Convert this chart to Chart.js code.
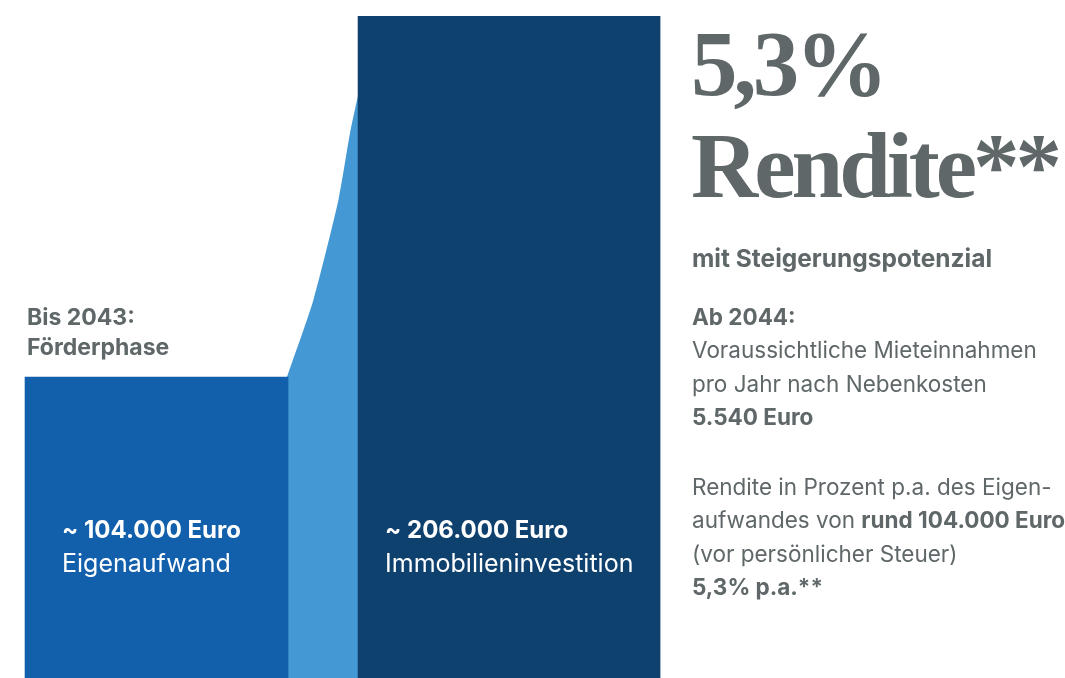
<!DOCTYPE html>
<html lang="de">
<head>
<meta charset="utf-8">
<script src="https://cdn.jsdelivr.net/npm/chart.js@4.4.1/dist/chart.umd.min.js"></script>
<style>
  html, body { margin: 0; padding: 0; background: #fff; }
  body { width: 1065px; height: 678px; position: relative; overflow: hidden; font-family: Inter, "Noto Sans", sans-serif; color: #5f6769; }
  #wrap { position: absolute; left: 0; top: 0; width: 1065px; height: 678px; }
  .big { position: absolute; left: 691px; top: 13px; font-family: "Liberation Serif", serif; font-weight: bold; font-size: 93px; line-height: 102px; letter-spacing: -4px; color: #5f6769; white-space: nowrap; }
  .side { position: absolute; left: 692px; font-size: 22.5px; line-height: 33.3px; white-space: nowrap; }
  .side b { font-weight: 700; }
</style>
</head>
<body>
<div id="wrap"><canvas id="chart" width="1065" height="678"></canvas></div>

<div class="big">5,3%<br>Rendite**</div>
<div class="side" style="top: 242px; font-weight: 700; font-size: 24.5px;">mit Steigerungspotenzial</div>
<div class="side" style="top: 300px;">
  <b>Ab 2044:</b><br>
  Voraussichtliche Mieteinnahmen<br>
  pro Jahr nach Nebenkosten<br>
  <b>5.540 Euro</b>
</div>
<div class="side" style="top: 470px;">
  Rendite in Prozent p.a. des Eigen-<br>
  aufwandes von <b>rund 104.000 Euro</b><br>
  (vor persönlicher Steuer)<br>
  <b>5,3% p.a.**</b>
</div>

<script>
// Bars: own funds vs. total investment
const barNames = ['Eigenaufwand', 'Immobilieninvestition'];
const barValues = [104000, 206000];
const barX = [0, 1];

// Rising band between the two bars
const connectorX = [0.37, 0.445, 0.516, 0.549, 0.575];
const connectorY = [104000, 125800, 154000, 173000, 185100];

const phaseLabel = ['Bis 2043:', 'Förderphase'];

const colors = {
    own: '#125fab',
    band: '#4499d4',
    invest: '#0f416f',
    grey: '#5f6769'
};

// label indent inside each bar
const labelIndent = [37, 27];

function formatEuro(v) {
    return '~ ' + String(v).replace(/\B(?=(\d{3})+(?!\d))/g, '.') + ' Euro';
}

// Draw labels inside the bars and the phase label above the first bar
const barLabelPlugin = {
    id: 'barLabels',
    afterDatasetsDraw(chart) {
        const ctx = chart.ctx;
        const bottom = chart.chartArea.bottom;
        ctx.save();
        ctx.textBaseline = 'alphabetic';
        ctx.textAlign = 'left';
        [0, 1].forEach(i => {
            const bar = chart.getDatasetMeta(i).data[0];
            const left = bar.x - bar.width / 2 + labelIndent[i];
            ctx.fillStyle = '#fff';
            ctx.font = 'bold 24px Inter, "Noto Sans", sans-serif';
            ctx.fillText(formatEuro(barValues[i]), left, bottom - 140);
            ctx.font = '25px Inter, "Noto Sans", sans-serif';
            ctx.fillText(barNames[i], left, bottom - 106);
        });
        const first = chart.getDatasetMeta(0).data[0];
        ctx.fillStyle = colors.grey;
        ctx.font = 'bold 23px Inter, "Noto Sans", sans-serif';
        const fx = first.x - first.width / 2 + 2;
        ctx.fillText(phaseLabel[0], fx, first.y - 52);
        ctx.fillText(phaseLabel[1], fx, first.y - 22);
        ctx.restore();
    }
};

document.addEventListener('DOMContentLoaded', () => {
    const ctx = document.getElementById('chart').getContext('2d');

    new Chart(ctx, {
        type: 'bar',
        data: {
            datasets: [
                {
                    type: 'bar',
                    data: [{ x: barX[0], y: barValues[0] }],
                    backgroundColor: colors.own,
                    barThickness: 263,
                    grouped: false,
                    order: 1
                },
                {
                    type: 'bar',
                    data: [{ x: barX[1], y: barValues[1] }],
                    backgroundColor: colors.invest,
                    barThickness: 302,
                    grouped: false,
                    order: 0
                },
                {
                    type: 'line',
                    data: connectorX.map((x, i) => ({ x: x, y: connectorY[i] })),
                    backgroundColor: colors.band,
                    borderWidth: 0,
                    pointRadius: 0,
                    fill: 'start',
                    tension: 0.2,
                    order: 2
                }
            ]
        },
        options: {
            responsive: false,
            animation: false,
            layout: { padding: { top: 16, left: 0, right: 0, bottom: 0 } },
            scales: {
                x: { type: 'linear', offset: false, min: -0.444, max: 2.577, display: false },
                y: { min: 19000, max: 206000, display: false }
            },
            plugins: {
                legend: { display: false },
                tooltip: { enabled: false }
            }
        },
        plugins: [barLabelPlugin]
    });
});
</script>
</body>
</html>
